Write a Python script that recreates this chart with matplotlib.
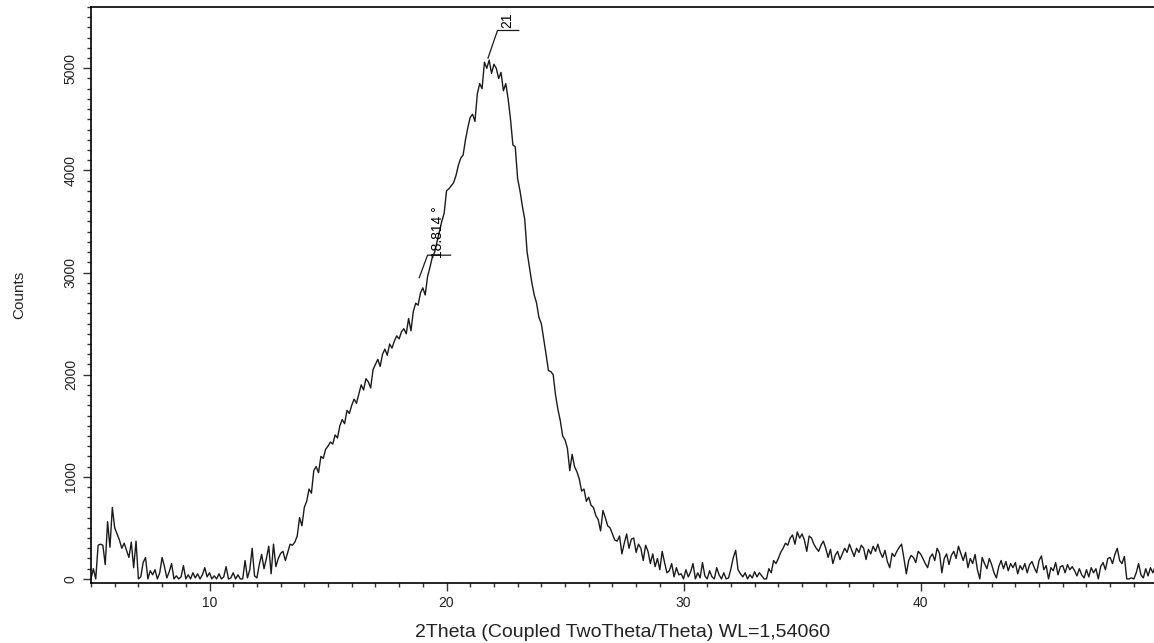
import numpy as np
import matplotlib
matplotlib.use("Agg")
import matplotlib.pyplot as plt
from matplotlib.ticker import MultipleLocator

# 2-theta start / step (degrees) and counts
two_theta_start = 5.0
two_theta_step = 0.1
counts = [
    # 5.x
    0, 100, 0, 330, 340, 330, 140, 560, 310, 700,
    # 6.x
    500, 440, 380, 300, 350, 280, 210, 360, 110, 370,
    # 7.x
    0, 20, 160, 210, 0, 80, 40, 90, 0, 60,
    # 8.x
    210, 120, 10, 70, 150, 0, 30, 0, 20, 130,
    # 9.x
    0, 40, 0, 60, 10, 50, 0, 40, 110, 20,
    # 10.x
    60, 0, 30, 0, 50, 0, 20, 120, 0, 10,
    # 11.x
    60, 0, 40, 0, 0, 180, 10, 90, 300, 30,
    # 12.x
    10, 140, 240, 100, 200, 320, 50, 340, 120, 200,
    # 13.x
    250, 270, 180, 260, 340, 330, 360, 420, 600, 520,
    # 14.x
    700, 760, 880, 840, 1060, 1100, 1040, 1200, 1180, 1270,
    # 15.x
    1300, 1340, 1320, 1410, 1380, 1500, 1560, 1520, 1650, 1620,
    # 16.x
    1700, 1760, 1720, 1810, 1900, 1850, 1960, 1930, 1870, 2050,
    # 17.x
    2100, 2150, 2080, 2200, 2250, 2190, 2300, 2260, 2330, 2380,
    # 18.x
    2350, 2420, 2450, 2400, 2550, 2430, 2620, 2700, 2680, 2800,
    # 19.x
    2850, 2780, 2960, 3050, 3150, 3200, 3300, 3400, 3500, 3580,
    # 20.x
    3800, 3820, 3850, 3880, 3950, 4050, 4120, 4150, 4300, 4420,
    # 21.x
    4520, 4550, 4480, 4750, 4850, 4800, 5060, 5000, 5080, 4950,
    # 22.x
    5040, 5000, 4900, 4960, 4780, 4850, 4700, 4500, 4250, 4230,
    # 23.x
    3920, 3800, 3650, 3520, 3200, 3050, 2900, 2780, 2700, 2560,
    # 24.x
    2500, 2350, 2200, 2040, 2030, 2000, 1800, 1660, 1550, 1400,
    # 25.x
    1360, 1280, 1060, 1220, 1100, 1050, 980, 860, 880, 760,
    # 26.x
    800, 720, 700, 620, 580, 470, 670, 600, 520, 500,
    # 27.x
    440, 380, 370, 420, 245, 350, 440, 300, 390, 400,
    # 28.x
    260, 340, 300, 180, 330, 270, 150, 245, 120, 200,
    # 29.x
    90, 270, 160, 60, 80, 150, 20, 110, 40, 50,
    # 30.x
    0, 90, 20, 70, 150, 0, 60, 10, 160, 30,
    # 31.x
    0, 80, 20, 0, 110, 40, 0, 60, 0, 10,
    # 32.x
    100, 210, 280, 90, 50, 20, 60, 0, 40, 10,
    # 33.x
    70, 20, 60, 30, 0, 0, 100, 60, 180, 150,
    # 34.x
    200, 260, 300, 350, 330, 400, 430, 340, 460, 400,
    # 35.x
    440, 380, 270, 420, 400, 340, 300, 270, 330, 370,
    # 36.x
    300, 210, 290, 150, 230, 270, 190, 245, 300, 260,
    # 37.x
    340, 280, 220, 300, 260, 330, 300, 190, 290, 245,
    # 38.x
    320, 270, 340, 260, 210, 280, 170, 110, 250, 220,
    # 39.x
    270, 310, 340, 200, 50, 180, 230, 210, 160, 270,
    # 40.x
    245, 200, 150, 110, 210, 245, 180, 300, 250, 60,
    # 41.x
    200, 245, 140, 230, 270, 200, 320, 250, 180, 260,
    # 42.x
    110, 200, 150, 240, 90, 0, 210, 150, 100, 200,
    # 43.x
    140, 60, 10, 120, 180, 100, 170, 80, 150, 110,
    # 44.x
    160, 50, 130, 90, 150, 60, 140, 170, 110, 60,
    # 45.x
    180, 225, 90, 130, 0, 110, 80, 160, 40, 120,
    # 46.x
    130, 60, 140, 90, 120, 80, 30, 100, 40, 10,
    # 47.x
    90, 20, 110, 60, 100, 0, 120, 160, 90, 200,
    # 48.x
    210, 150, 240, 300, 180, 150, 220, 0, 0, 10,
    # 49.x
    0, 60, 150, 40, 10, 100, 30, 110, 60, 120,
]

x_ticks = [10, 20, 30, 40]
y_ticks = [0, 1000, 2000, 3000, 4000, 5000]
peak_labels = ["21", "18.814 \u00b0"]
peak_pos = [21.75, 18.85]
peak_counts = [5100, 2950]

x_label = "2Theta (Coupled TwoTheta/Theta) WL=1,54060"
y_label = "Counts"

plt.rcParams['font.family'] = ['Liberation Sans', 'DejaVu Sans']

two_theta = two_theta_start + two_theta_step * np.arange(len(counts))

fig = plt.figure(figsize=(11.54, 6.43), dpi=100)
ax = fig.add_axes([91 / 1154, 60 / 643, 1 - 91 / 1154, 576 / 643])
ax.plot(two_theta, counts, color='#1a1a1a', lw=1.0)

ax.set_xlim(5.0, 49.85)
ax.set_ylim(-40, 5600)
ax.set_xticks(x_ticks)
ax.set_yticks(y_ticks)
ax.xaxis.set_minor_locator(MultipleLocator(1))
ax.yaxis.set_minor_locator(MultipleLocator(100))
ax.tick_params(which='major', direction='out', length=6, width=1, labelsize=10,
               colors='#333333', labelcolor='#222222')
ax.tick_params(which='minor', direction='out', length=3, width=1, colors='#333333')
for lbl in ax.get_yticklabels():
    lbl.set_rotation(90)
    lbl.set_va('center')
ax.spines['right'].set_visible(False)
for s in ['top', 'left', 'bottom']:
    ax.spines[s].set_linewidth(1.2)

ax.set_xlabel(x_label, fontsize=14, labelpad=10, color='#222222')
ax.set_ylabel(y_label, fontsize=11, labelpad=27, color='#222222')

# peak annotations: leader line + rotated label
# "21"
ax.plot([peak_pos[0], 22.15, 23.05], [peak_counts[0], 5370, 5370], color='#1a1a1a', lw=0.9)
ax.text(22.55, 5395, peak_labels[0], rotation=90, ha='center', va='bottom', fontsize=10)
# "18.814 °"
ax.plot([peak_pos[1], 19.2, 20.17], [peak_counts[1], 3170, 3170], color='#1a1a1a', lw=0.9)
ax.text(19.62, 3140, peak_labels[1], rotation=90, ha='center', va='bottom', fontsize=10)

fig.savefig('out.png', dpi=100)
